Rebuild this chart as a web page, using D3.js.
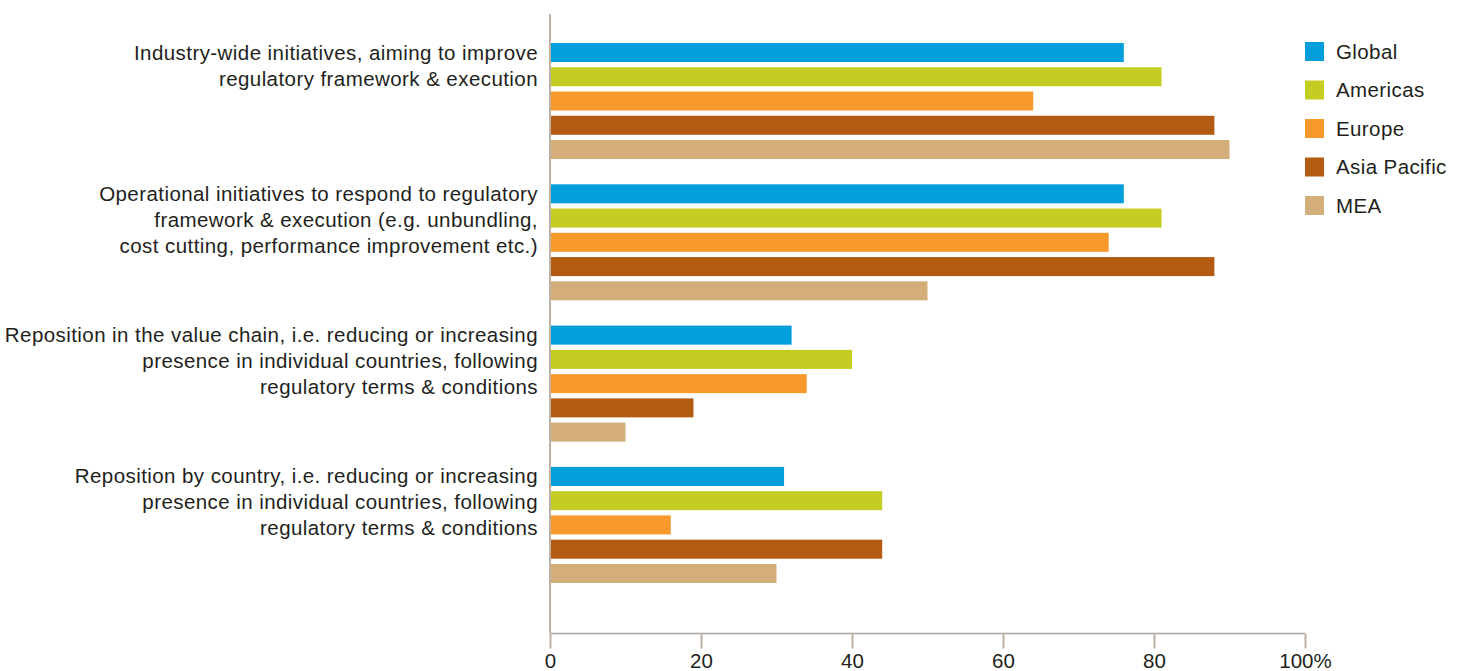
<!DOCTYPE html>
<html>
<head>
<meta charset="utf-8">
<script src="https://cdn.jsdelivr.net/npm/d3@7"></script>
<style>
  html, body { margin: 0; padding: 0; background: #fff; }
  svg { display: block; }
  text { font-family: "Liberation Sans", Arial, sans-serif; fill: #231f20; }
</style>
</head>
<body>
<svg id="chart" width="1463" height="671"></svg>
<script>
const categories = [
  "Industry-wide initiatives, aiming to improve|regulatory framework & execution",
  "Operational initiatives to respond to regulatory|framework & execution (e.g. unbundling,|cost cutting, performance improvement etc.)",
  "Reposition in the value chain, i.e. reducing or increasing|presence in individual countries, following|regulatory terms & conditions",
  "Reposition by country, i.e. reducing or increasing|presence in individual countries, following|regulatory terms & conditions"
];
const seriesNames = ["Global", "Americas", "Europe", "Asia Pacific", "MEA"];
const globalValues      = [76, 76, 32, 31];
const americasValues    = [81, 81, 40, 44];
const europeValues      = [64, 74, 34, 16];
const asiaPacificValues = [88, 88, 19, 44];
const meaValues         = [90, 50, 10, 30];
const seriesColors = ["#009fdc", "#c3cd22", "#f7992b", "#b35b13", "#d3ae7b"];
const tickValues = [0, 20, 40, 60, 80, 100];
const tickLabels = ["0", "20", "40", "60", "80", "100%"];

const seriesValues = [globalValues, americasValues, europeValues, asiaPacificValues, meaValues];

const svg = d3.select("#chart");
const axisColor = "#bdb1a6";

const x = d3.scaleLinear().domain([0, 100]).range([550, 1305]);
const y0 = d3.scaleBand().domain(d3.range(categories.length)).range([40.4, 40.4 + 4 * 141.3]);
const y1 = d3.scaleBand().domain(seriesNames).range([0, 121.25]).paddingInner(0.216).paddingOuter(0.108);

// bars
const groups = svg.append("g").selectAll("g")
  .data(categories.map((c, i) => i))
  .join("g")
  .attr("transform", i => `translate(0,${y0(i)})`);

groups.selectAll("rect")
  .data(i => seriesNames.map((s, k) => ({ s, v: seriesValues[k][i], c: seriesColors[k] })))
  .join("rect")
  .attr("x", x(0))
  .attr("y", d => y1(d.s))
  .attr("width", d => x(d.v) - x(0))
  .attr("height", y1.bandwidth())
  .attr("fill", d => d.c);

// category labels
const lineH = 26;
groups.append("text")
  .attr("text-anchor", "end")
  .style("font-size", "20.5px")
  .style("letter-spacing", "0.43px")
  .selectAll("tspan")
  .data(i => categories[i].split("|"))
  .join("tspan")
  .attr("x", 538)
  .attr("y", (d, j) => y1("Global") + y1.bandwidth() / 2 + 7 + j * lineH)
  .text(d => d);

// x axis
const xAxis = d3.axisBottom(x).tickValues(tickValues).tickSize(15).tickPadding(5)
  .tickFormat((d, i) => tickLabels[i]);
const gx = svg.append("g").attr("transform", "translate(0,633.5)").call(xAxis);
gx.select(".domain").attr("stroke", "#a8a4a1").attr("stroke-width", 1.5).attr("d", `M${x(0)},0H${x(100)}`);
gx.selectAll(".tick line").attr("stroke", axisColor).attr("stroke-width", 2);
gx.selectAll(".tick text").style("font-size", "20.5px").style("font-family", '"Liberation Sans", Arial, sans-serif').attr("fill", "#231f20");

// vertical axis line
svg.append("line")
  .attr("x1", x(0)).attr("x2", x(0))
  .attr("y1", 14).attr("y2", 633)
  .attr("stroke", axisColor).attr("stroke-width", 2);

// legend
const legend = svg.append("g").selectAll("g")
  .data(seriesNames)
  .join("g")
  .attr("transform", (d, i) => `translate(1305,${42 + i * 38.5})`);
legend.append("rect").attr("width", 19).attr("height", 19)
  .attr("fill", (d, i) => seriesColors[i]);
legend.append("text").attr("x", 31).attr("y", 16.5)
  .style("font-size", "20.5px").style("letter-spacing", "0.4px").text(d => d);
</script>
</body>
</html>
